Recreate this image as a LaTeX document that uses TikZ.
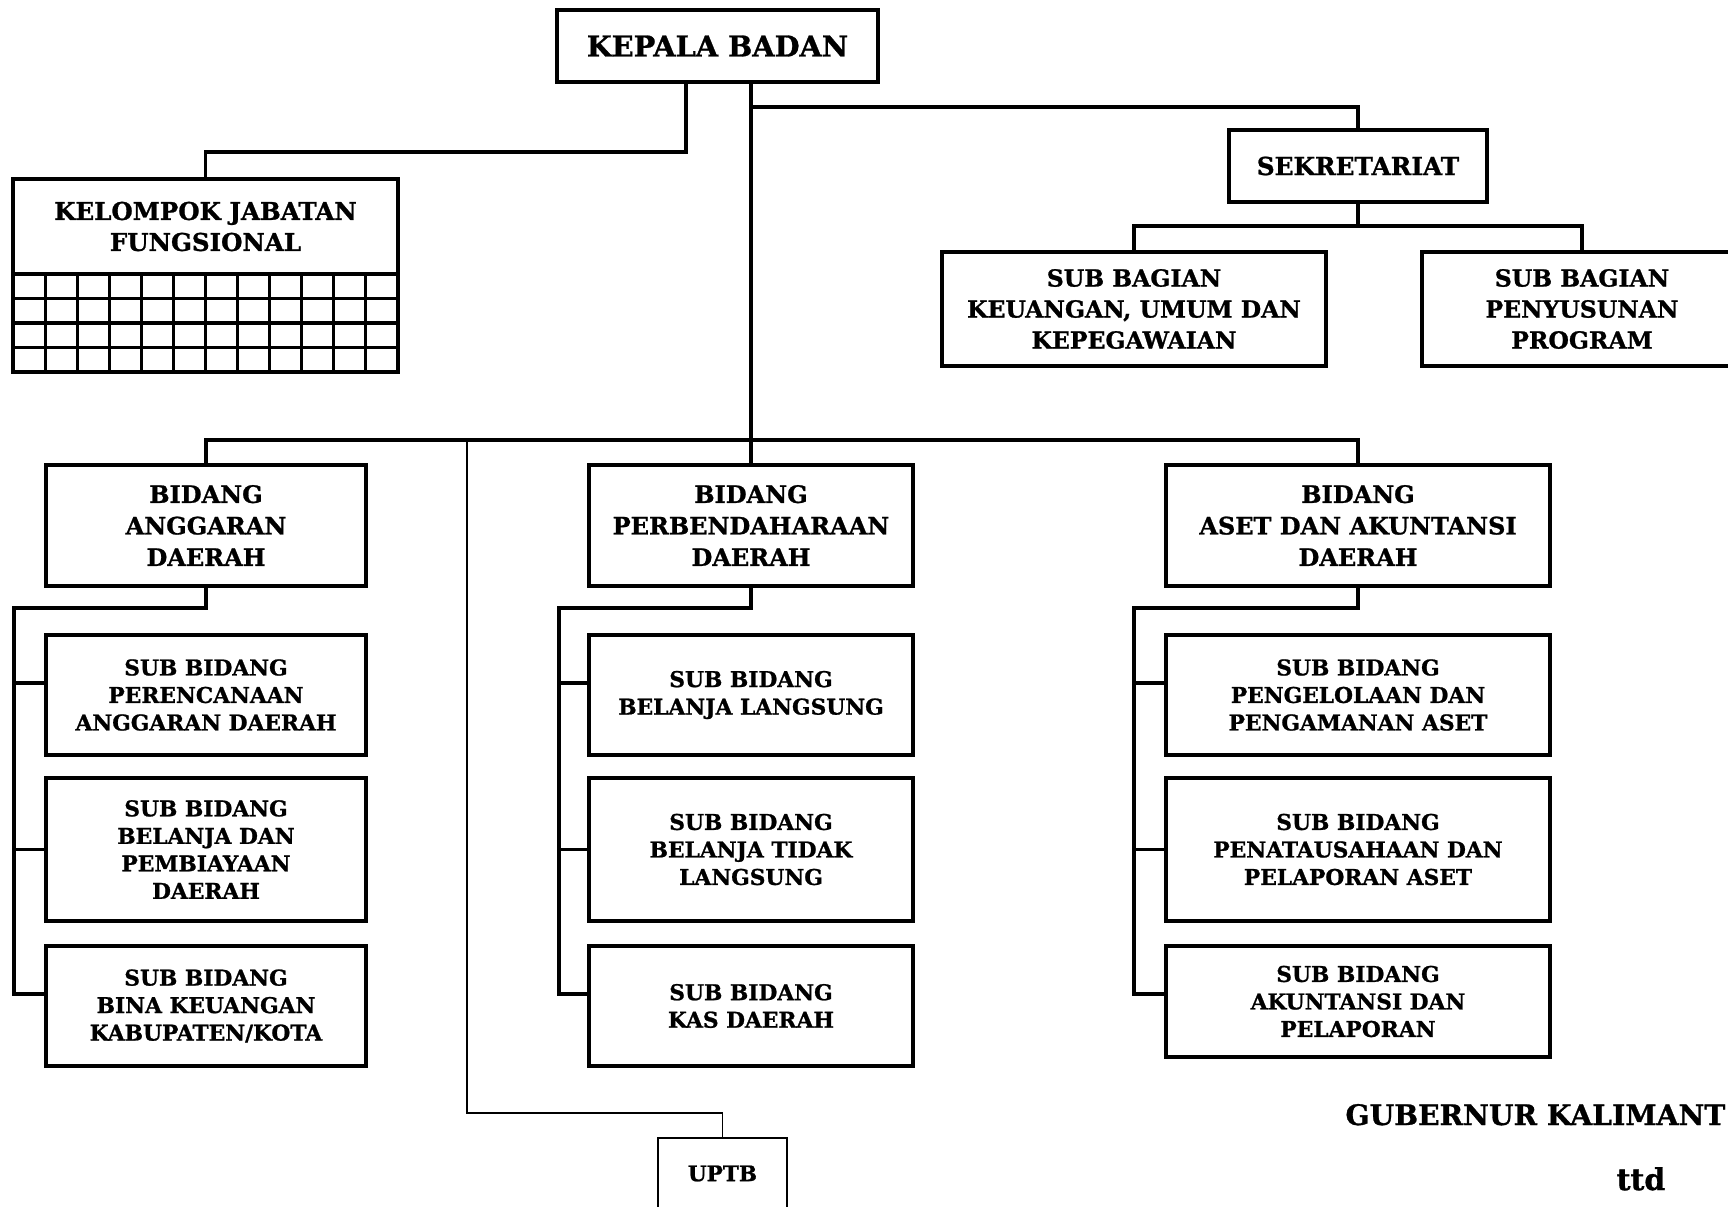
\documentclass[tikz,border=0pt]{standalone}
\usepackage{fontspec}
\setmainfont{DejaVu Serif}[BoldFeatures={FakeBold=1}]
\tikzset{
  box/.style={draw, line width=1.3pt, rectangle, inner sep=0pt, outer sep=0pt, align=center,
    font=\bfseries\fontsize{9.6}{12.6}\selectfont},
  subbox/.style={box, font=\bfseries\fontsize{8.7}{11}\selectfont},
  conn/.style={line width=1.25pt},
  thinconn/.style={line width=0.55pt},
  gridline/.style={line width=1.25pt},
}
\begin{document}
\begin{tikzpicture}[x=0.4pt,y=-0.4pt]
\useasboundingbox (0,0) rectangle (1728,1207);
\fill[white] (0,0) rectangle (1728,1207);
\clip (0,0) rectangle (1728,1207);

% top
\node[box, minimum width=128.4pt, minimum height=28.8pt, font=\bfseries\fontsize{11.5}{14}\selectfont] (kepala) at (717.5,46) {KEPALA BADAN};
\node[box, minimum width=154pt, minimum height=38pt, font=\bfseries\fontsize{9.8}{12.4}\selectfont] (kjf) at (205.5,226.5) {KELOMPOK JABATAN\\FUNGSIONAL};
\node[box, minimum width=103.2pt, minimum height=28.8pt, font=\bfseries\fontsize{9.9}{12}\selectfont] (sek) at (1358,166) {SEKRETARIAT};
\node[box, minimum width=153.6pt, minimum height=45.6pt, font=\bfseries\fontsize{9.4}{12.4}\selectfont] (sb1) at (1134,309) {SUB BAGIAN\\KEUANGAN, UMUM DAN\\KEPEGAWAIAN};
\node[box, minimum width=128pt, minimum height=45.6pt, font=\bfseries\fontsize{9.4}{12.4}\selectfont] (sb2) at (1582,309) {SUB BAGIAN\\PENYUSUNAN\\PROGRAM};

% grid under kelompok
\draw[gridline] (kjf.south west) rectangle ++(385,98);
\foreach \i in {1,...,11} \draw[gridline] ([xshift=\i*12.833pt]kjf.south west) -- ++(0,98);
\foreach \j in {1,2,3} \draw[gridline] ([yshift=-\j*9.8pt]kjf.south west) -- ++(385,0);

% bidang
\node[box, minimum width=128pt, minimum height=48.4pt] (bidA) at (206,525.5) {BIDANG\\ANGGARAN\\DAERAH};
\node[box, minimum width=129.6pt, minimum height=48.4pt] (bidP) at (751,525.5) {BIDANG\\PERBENDAHARAAN\\DAERAH};
\node[box, minimum width=153.6pt, minimum height=48.4pt] (bidS) at (1358,525.5) {BIDANG\\ASET DAN AKUNTANSI\\DAERAH};

% sub bidang
\node[subbox, minimum width=128pt, minimum height=48pt] (A1) at (206,695) {SUB BIDANG\\PERENCANAAN\\ANGGARAN DAERAH};
\node[subbox, minimum width=128pt, minimum height=57.2pt] (A2) at (206,849.5) {SUB BIDANG\\BELANJA DAN\\PEMBIAYAAN\\DAERAH};
\node[subbox, minimum width=128pt, minimum height=48pt] (A3) at (206,1006) {SUB BIDANG\\BINA KEUANGAN\\KABUPATEN/KOTA};

\node[subbox, minimum width=129.6pt, minimum height=48pt] (P1) at (751,695) {SUB BIDANG\\BELANJA LANGSUNG};
\node[subbox, minimum width=129.6pt, minimum height=57.2pt] (P2) at (751,849.5) {SUB BIDANG\\BELANJA TIDAK\\LANGSUNG};
\node[subbox, minimum width=129.6pt, minimum height=48pt] (P3) at (751,1006) {SUB BIDANG\\KAS DAERAH};

\node[subbox, minimum width=153.6pt, minimum height=48pt] (S1) at (1358,695) {SUB BIDANG\\PENGELOLAAN DAN\\PENGAMANAN ASET};
\node[subbox, minimum width=153.6pt, minimum height=57.2pt] (S2) at (1358,849.5) {SUB BIDANG\\PENATAUSAHAAN DAN\\PELAPORAN ASET};
\node[subbox, minimum width=153.6pt, minimum height=44.4pt] (S3) at (1358,1001.5) {SUB BIDANG\\AKUNTANSI DAN\\PELAPORAN};

% UPTB
\node[draw, line width=0.55pt, inner sep=0pt, minimum width=51.6pt, minimum height=28.4pt, font=\bfseries\fontsize{8.6}{10}\selectfont] (uptb) at (722.5,1173.5) {UPTB};

% connectors
\coordinate (jSek) at (751,107);
\coordinate (jUp) at (467,440);
\coordinate (jUp2) at (467,1113);
\draw[conn] (kepala.south -| bidP.north) -- (bidP.north);
\draw[conn] ([xshift=-12.6pt]kepala.south) -- ++(0,70) -| (kjf.north);
\draw[conn] (jSek) -| (sek.north);
\draw[conn] (sek.south) -- ++(0,24);
\draw[conn] (sb1.north) -- ++(0,-26) -| (sb2.north);
\draw[conn] (bidA.north) -- ++(0,-25) -| (bidS.north);
\draw[thinconn] (jUp) -- (jUp2) -| (uptb.north);

\foreach \b/\p/\d/\g/\s in {bidA/A/192/32/4.8pt, bidP/P/192/30/4.8pt, bidS/S/224/32/3pt}{
  \draw[conn] (\b.south) -- ++(0,22) -- ++(-\d,0) |- ([yshift=\s]\p3.west);
  \draw[conn] ([yshift=4.8pt]\p1.west) -- ++(-\g,0);
  \draw[conn] (\p2.west) -- ++(-\g,0);
}

% signature
\node[anchor=base west, inner sep=0pt, font=\bfseries\fontsize{11.3}{13}\selectfont] (gub) at (1345,1125) {GUBERNUR KALIMANT};
\node[anchor=base, inner sep=0pt, font=\bfseries\fontsize{12}{14}\selectfont] (ttd) at (1641,1190) {ttd};
\end{tikzpicture}
\end{document}
